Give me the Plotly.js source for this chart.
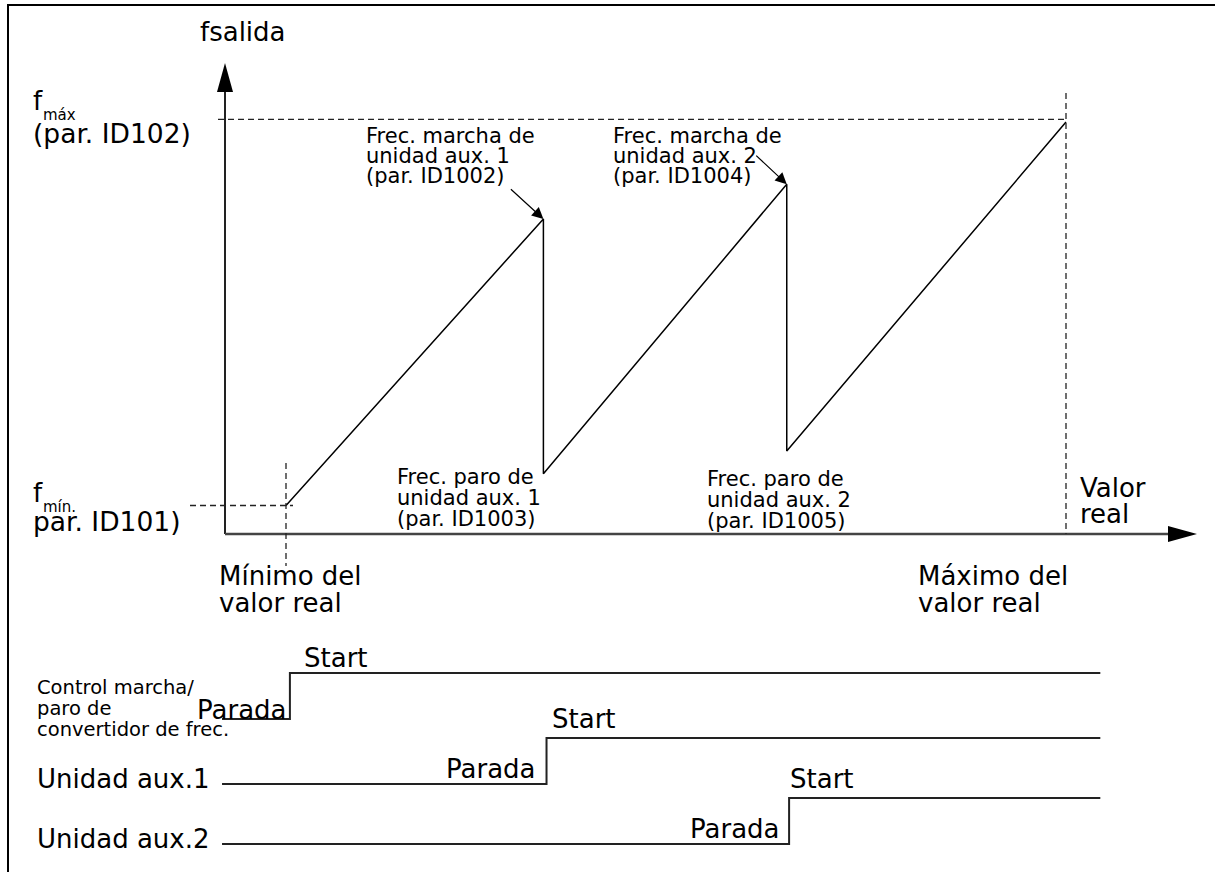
<!DOCTYPE html>
<html>
<head>
<meta charset="utf-8">
<script src="https://cdn.plot.ly/plotly-3.0.1.min.js"></script>
<style>
  html, body { margin: 0; padding: 0; background: #fff; }
  #plot { width: 1215px; height: 872px; }
</style>
</head>
<body>
<div id="plot"></div>
<script>
// Valor real in % of its range (0 = minimo, 100 = maximo), fsalida in % (0 = fmin, 100 = fmax)
var valorReal = [0, 33.0, 33.0, 64.2, 64.2, 100];
var fSalida = [0, 74.2, 8.2, 83.2, 14.1, 99.3];

// start/stop signals: switch points on the same valor real scale, 0 = Parada, 1 = Start
var ctrlX = [-8.2, 0.5, 104.4];
var ctrlState = [0, 1, 1];
var aux1X = [-8.2, 33.4, 104.4];
var aux1State = [0, 1, 1];
var aux2X = [-8.2, 64.5, 104.4];
var aux2State = [0, 1, 1];

// page geometry (pixels)
var W = 1215, H = 872;
var ox = 286, oy = 505.5, kx = 7.8, ky = 3.862;   // main drawing: origin and px per unit
var t0 = 719, kt = 46;                             // signal rows: first low level, px per unit
var rowLowPx = [719, 784, 844];
var font = 'DejaVu Sans';
var ink = '#222';

function dx(px) { return (px - ox) / kx; }
function dy(py) { return (oy - py) / ky; }
function rowBase(i) { return (t0 - rowLowPx[i]) / kt; }
function addBase(arr, i) { return arr.map(function (v) { return v + rowBase(i); }); }

var traces = [
    {
        x: valorReal, y: fSalida, mode: 'lines', type: 'scatter',
        line: { color: '#000', width: 1.5 }, hoverinfo: 'skip'
    }
];
[[ctrlX, ctrlState], [aux1X, aux1State], [aux2X, aux2State]].forEach(function (s, i) {
    traces.push({
        x: s[0], y: addBase(s[1], i), yaxis: 'y2', mode: 'lines', type: 'scatter',
        line: { color: ink, width: 2, shape: 'hv' }, hoverinfo: 'skip'
    });
});

// axes with arrows
var xO = dx(225), yO = dy(534);
var yTop = dy(92), yTip = dy(63), hwY = 8 / kx;
var xEnd = dx(1168), xTip = dx(1197), hwX = 8 / ky;

var shapes = [
    { type: 'line', xref: 'x', yref: 'y', x0: xO, x1: xO, y0: yO, y1: yTop, line: { color: ink, width: 2 } },
    { type: 'line', xref: 'x', yref: 'y', x0: xO, x1: xEnd, y0: yO, y1: yO, line: { color: '#444', width: 2.5 } },
    { type: 'path', xref: 'x', yref: 'y', fillcolor: '#000', line: { width: 0 },
      path: 'M' + xO + ',' + yTip + ' L' + (xO - hwY) + ',' + yTop + ' L' + (xO + hwY) + ',' + yTop + ' Z' },
    { type: 'path', xref: 'x', yref: 'y', fillcolor: '#000', line: { width: 0 },
      path: 'M' + xTip + ',' + yO + ' L' + xEnd + ',' + (yO + hwX) + ' L' + xEnd + ',' + (yO - hwX) + ' Z' },
    // fmax / fmin and valor real limits
    { type: 'line', xref: 'x', yref: 'y', x0: dx(218), x1: 100, y0: 100, y1: 100, line: { color: ink, width: 1.3, dash: '6px,4px' } },
    { type: 'line', xref: 'x', yref: 'y', x0: 100, x1: 100, y0: dy(93), y1: yO, line: { color: ink, width: 1.3, dash: '6px,4px' } },
    { type: 'line', xref: 'x', yref: 'y', x0: dx(190), x1: dx(293), y0: 0, y1: 0, line: { color: ink, width: 1.3, dash: '6px,4px' } },
    { type: 'line', xref: 'x', yref: 'y', x0: 0, x1: 0, y0: dy(463), y1: dy(566), line: { color: ink, width: 1.3, dash: '6px,4px' } },
    // frame
    { type: 'path', xref: 'paper', yref: 'paper', line: { color: '#000', width: 2 },
      path: 'M' + (8 / W) + ',0 L' + (8 / W) + ',' + (1 - 5 / H) + ' L1,' + (1 - 5 / H) }
];

// text: [text, x px, baseline px, size, anchor]
var labels = [
    ['fsalida', 200, 41, 26],
    ['f', 33, 110, 26], ['máx', 43, 120, 15], ['(par. ID102)', 33, 143, 26.5],
    ['f', 33, 502, 26], ['mín.', 43, 512, 15], ['par. ID101)', 33, 531, 26.5],
    ['Frec. marcha de', 366, 143, 21], ['unidad aux. 1', 366, 163, 21], ['(par. ID1002)', 366, 183, 21],
    ['Frec. marcha de', 613, 143, 21], ['unidad aux. 2', 613, 163, 21], ['(par. ID1004)', 613, 183, 21],
    ['Frec. paro de', 397, 484, 21], ['unidad aux. 1', 397, 505, 21], ['(par. ID1003)', 397, 526, 21],
    ['Frec. paro de', 707, 486, 21], ['unidad aux. 2', 707, 507, 21], ['(par. ID1005)', 707, 528, 21],
    ['Valor', 1080, 497, 26], ['real', 1080, 523, 26],
    ['Mínimo del', 219, 585, 26], ['valor real', 219, 612, 26],
    ['Máximo del', 918, 585, 26], ['valor real', 918, 612, 26],
    ['Control marcha/', 37, 694, 19.5], ['paro de', 37, 715, 19.5], ['convertidor de frec.', 37, 736, 19.5],
    ['Start', 304, 667, 26], ['Parada', 287, 719, 26, 'right'],
    ['Unidad aux.1', 37, 788, 26], ['Parada', 536, 778, 26, 'right'], ['Start', 552, 728, 26],
    ['Unidad aux.2', 37, 848, 26], ['Parada', 780, 838, 26, 'right'], ['Start', 790, 788, 26]
];

var annotations = labels.map(function (l) {
    var anchor = l[4] || 'left';
    return {
        text: l[0], xref: 'paper', yref: 'paper',
        x: (l[1] + (anchor === 'left' ? -2 : 2)) / W,
        y: 1 - (l[2] - 0.345 * l[3]) / H,
        xanchor: anchor, yanchor: 'middle', showarrow: false,
        font: { family: font, size: l[3], color: '#000' }
    };
});

// pointers from the "Frec. marcha" labels to the peaks
[[1, -34, -31], [3, -32, -30]].forEach(function (p) {
    annotations.push({
        text: '', xref: 'x', yref: 'y', x: valorReal[p[0]], y: fSalida[p[0]],
        ax: p[1], ay: p[2], showarrow: true, arrowhead: 2, arrowsize: 1.9,
        arrowwidth: 1.2, arrowcolor: '#000', standoff: 0
    });
});

var layout = {
    width: W, height: H,
    margin: { l: 0, r: 0, t: 0, b: 0 },
    paper_bgcolor: '#fff', plot_bgcolor: '#fff',
    showlegend: false,
    xaxis: { range: [dx(0), dx(W)], visible: false, fixedrange: true },
    yaxis: { range: [dy(H), dy(0)], visible: false, fixedrange: true },
    yaxis2: { range: [(t0 - H) / kt, t0 / kt], overlaying: 'y', visible: false, fixedrange: true },
    shapes: shapes,
    annotations: annotations
};

Plotly.newPlot('plot', traces, layout, { staticPlot: true, displayModeBar: false });
</script>
</body>
</html>
